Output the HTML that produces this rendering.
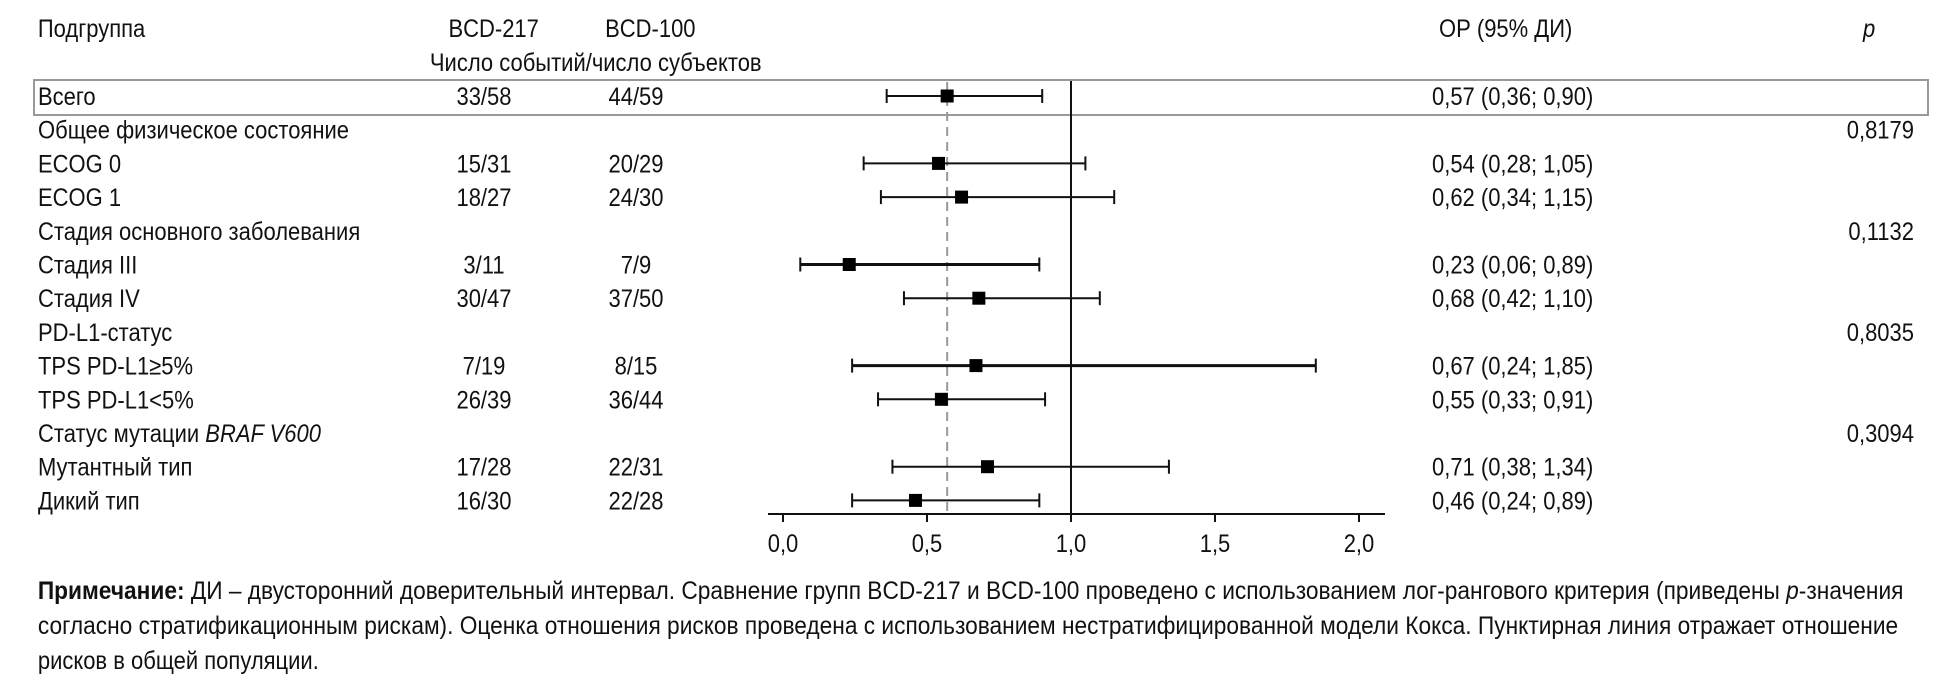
<!DOCTYPE html>
<html><head><meta charset="utf-8"><style>
html,body{margin:0;padding:0;background:#fff;}
svg text{font-family:"Liberation Sans Narrow","Liberation Sans",sans-serif;font-size:25px;fill:#111;}
</style></head><body>
<svg id="chart" width="1950" height="685" viewBox="0 0 1950 685">
<g id="txt" transform="scale(0.88,1)">
<g id="hdr">
<text x="43" y="37">Подгруппа</text>
<text x="561" y="37" text-anchor="middle">BCD-217</text>
<text x="739" y="37" text-anchor="middle">BCD-100</text>
<text x="677" y="71" text-anchor="middle">Число событий/число субъектов</text>
<text x="1711" y="37" text-anchor="middle">ОР (95% ДИ)</text>
<text x="2124" y="37" text-anchor="middle" font-style="italic">p</text>
</g>
<g id="rows"></g>
<g>
<text x="43" y="599" textLength="2120" lengthAdjust="spacingAndGlyphs"><tspan font-weight="bold">Примечание:</tspan> ДИ – двусторонний доверительный интервал. Сравнение групп BCD-217 и BCD-100 проведено с использованием лог-рангового критерия (приведены <tspan font-style="italic">p</tspan>-значения</text>
<text x="43" y="634" textLength="2114" lengthAdjust="spacingAndGlyphs">согласно стратификационным рискам). Оценка отношения рисков проведена с использованием нестратифицированной модели Кокса. Пунктирная линия отражает отношение</text>
<text x="43" y="669">рисков в общей популяции.</text>
</g>
</g>
<rect x="34" y="80" width="1894" height="35" fill="none" stroke="#999" stroke-width="2"/>
<g id="plot"></g>
</svg>
<script>
const labels=["Всего","Общее физическое состояние","ECOG 0","ECOG 1","Стадия основного заболевания","Стадия III","Стадия IV","PD-L1-статус","TPS PD-L1≥5%","TPS PD-L1<5%","Статус мутации BRAF V600","Мутантный тип","Дикий тип"];
const n217=["33/58","","15/31","18/27","","3/11","30/47","","7/19","26/39","","17/28","16/30"];
const n100=["44/59","","20/29","24/30","","7/9","37/50","","8/15","36/44","","22/31","22/28"];
const hr=[0.57,null,0.54,0.62,null,0.23,0.68,null,0.67,0.55,null,0.71,0.46];
const lo=[0.36,null,0.28,0.34,null,0.06,0.42,null,0.24,0.33,null,0.38,0.24];
const hi=[0.90,null,1.05,1.15,null,0.89,1.10,null,1.85,0.91,null,1.34,0.89];
const pvals=["","0,8179","","","0,1132","","","0,8035","","","0,3094","",""];
const ticks=[0,0.5,1,1.5,2];
const overall=0.57;
const NS="http://www.w3.org/2000/svg";
const SX=0.88;
const X=v=>783+288*v;
const Y=i=>96+33.7*i;
const fmt=v=>v.toFixed(2).replace('.',',');
function el(t,a,p){const e=document.createElementNS(NS,t);for(const k in a)e.setAttribute(k,a[k]);p.appendChild(e);return e;}
const rows=document.getElementById('rows'),plot=document.getElementById('plot');
labels.forEach((l,i)=>{
  const y=Y(i)+9;
  const t=el('text',{x:38/SX,y:y},rows);
  
  
  if(l.indexOf('BRAF')>=0){t.textContent='Статус мутации ';const s=el('tspan',{'font-style':'italic'},t);s.textContent='BRAF V600';}
  else t.textContent=l;
  if(n217[i]){const a=el('text',{x:484/SX,y:y,'text-anchor':'middle'},rows);a.textContent=n217[i];
    
    }
  if(n100[i]){const b=el('text',{x:636/SX,y:y,'text-anchor':'middle'},rows);b.textContent=n100[i];
    
    }
  if(hr[i]!==null){const c=el('text',{x:1432/SX,y:y},rows);c.textContent=fmt(hr[i])+' ('+fmt(lo[i])+'; '+fmt(hi[i])+')';
    
    }
  if(pvals[i]){const d=el('text',{x:1914/SX,y:y,'text-anchor':'end'},rows);d.textContent=pvals[i];
    
    }
});
const dl=el('line',{x1:X(overall),x2:X(overall),y1:82,y2:514,stroke:'#999','stroke-width':2,'stroke-dasharray':'9,6'},plot);


const nl=el('line',{x1:X(1),x2:X(1),y1:81,y2:514,stroke:'#111','stroke-width':2},plot);


hr.forEach((h,i)=>{
  if(h===null)return;
  const y=Y(i);const w=(i===5||i===8)?3:2;
  const g=el('g',{},plot);
  
  
  el('line',{x1:X(lo[i]),x2:X(hi[i]),y1:y,y2:y,stroke:'#111','stroke-width':w},g);
  el('line',{x1:X(lo[i]),x2:X(lo[i]),y1:y-7,y2:y+7,stroke:'#111','stroke-width':2},g);
  el('line',{x1:X(hi[i]),x2:X(hi[i]),y1:y-7,y2:y+7,stroke:'#111','stroke-width':2},g);
  const r=el('rect',{x:X(h)-6.5,y:y-6.5,width:13,height:13,fill:'#000'},plot);
  
  
});
const ax=el('line',{x1:768,x2:1385,y1:514,y2:514,stroke:'#111','stroke-width':2},plot);


ticks.forEach(t=>{
  el('line',{x1:X(t),x2:X(t),y1:514,y2:522,stroke:'#111','stroke-width':2},plot);
  const tx=el('text',{x:X(t),y:552,'text-anchor':'middle',transform:'translate('+X(t)+',0) scale('+SX+',1) translate('+(-X(t))+',0)'},plot);
  tx.textContent=t.toFixed(1).replace('.',',');
  
  
});
</script>
</body></html>
